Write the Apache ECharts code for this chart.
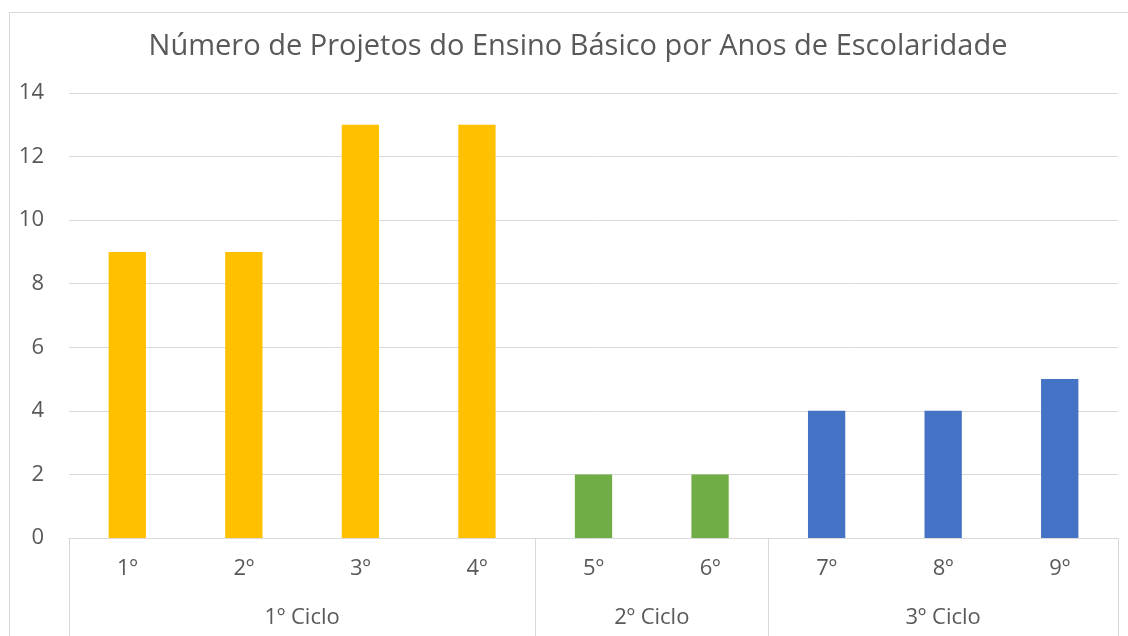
<!DOCTYPE html>
<html><head><meta charset="utf-8">
<script src="https://cdn.jsdelivr.net/npm/echarts@6/dist/echarts.min.js"></script>
<style>
html,body{margin:0;padding:0;background:#fff;}
#frame{position:absolute;left:9px;top:12px;width:1130px;height:640px;border:1px solid #d9d9d9;box-sizing:border-box;}
#chart{position:absolute;left:0;top:0;width:1128px;height:636px;}
</style>
</head><body>
<div id="frame"></div>
<div id="chart"></div>
<script>
const titleText = 'Número de Projetos do Ensino Básico por Anos de Escolaridade';
const categories = ['1º','2º','3º','4º','5º','6º','7º','8º','9º'];
const values = [9, 9, 13, 13, 2, 2, 4, 4, 5];
const groups = ['1º Ciclo','2º Ciclo','3º Ciclo'];
const groupSizes = [4, 2, 3];
const yTicks = [0, 2, 4, 6, 8, 10, 12, 14];

const palette = ['#FFC000', '#70AD47', '#4472C4'];
const FONT = 'Open Sans';
const TXT = '#595959';
const GRID = '#d9d9d9';

// group boundaries and centers derived from group sizes
const bounds = [0];
groupSizes.forEach(s => bounds.push(bounds[bounds.length - 1] + s));
const centers = groups.map((g, i) => (bounds[i] + bounds[i + 1]) / 2);
const groupOf = idx => bounds.findIndex((b, i) => i < groups.length && idx >= b && idx < bounds[i + 1]);

const chart = echarts.init(document.getElementById('chart'), null, {renderer: 'canvas'});
chart.setOption({
  backgroundColor: 'transparent',
  animation: false,
  title: {
    text: titleText, left: 573, top: 27, textAlign: 'center',
    textStyle: {fontFamily: FONT, fontWeight: 'normal', fontSize: 29, color: TXT}
  },
  grid: {left: 69, right: 10, top: 93, bottom: 98, containLabel: false},
  xAxis: [{
    type: 'category', data: categories, gridIndex: 0,
    axisLine: {show: true, lineStyle: {color: GRID, width: 1}},
    axisTick: {show: false},
    axisLabel: {fontFamily: FONT, fontSize: 22, color: TXT, margin: 20}
  }, {
    type: 'value', min: 0, max: categories.length, gridIndex: 0, position: 'bottom',
    axisLine: {show: false}, splitLine: {show: false},
    axisTick: {show: true, customValues: bounds, length: 100, lineStyle: {color: GRID, width: 1}},
    axisLabel: {
      show: true, customValues: centers, margin: 69,
      fontFamily: FONT, fontSize: 22, color: TXT,
      formatter: v => groups[centers.indexOf(v)] || ''
    }
  }],
  yAxis: {
    type: 'value', min: yTicks[0], max: yTicks[yTicks.length - 1], interval: 2,
    axisLine: {show: false}, axisTick: {show: false},
    splitLine: {lineStyle: {color: GRID, width: 1}},
    axisLabel: {fontFamily: FONT, fontSize: 22, color: TXT, margin: 25}
  },
  series: [{
    type: 'bar', xAxisIndex: 0, barWidth: '32%',
    data: values.map((v, i) => ({value: v, itemStyle: {color: palette[groupOf(i)]}}))
  }]
});
</script>
</body></html>
